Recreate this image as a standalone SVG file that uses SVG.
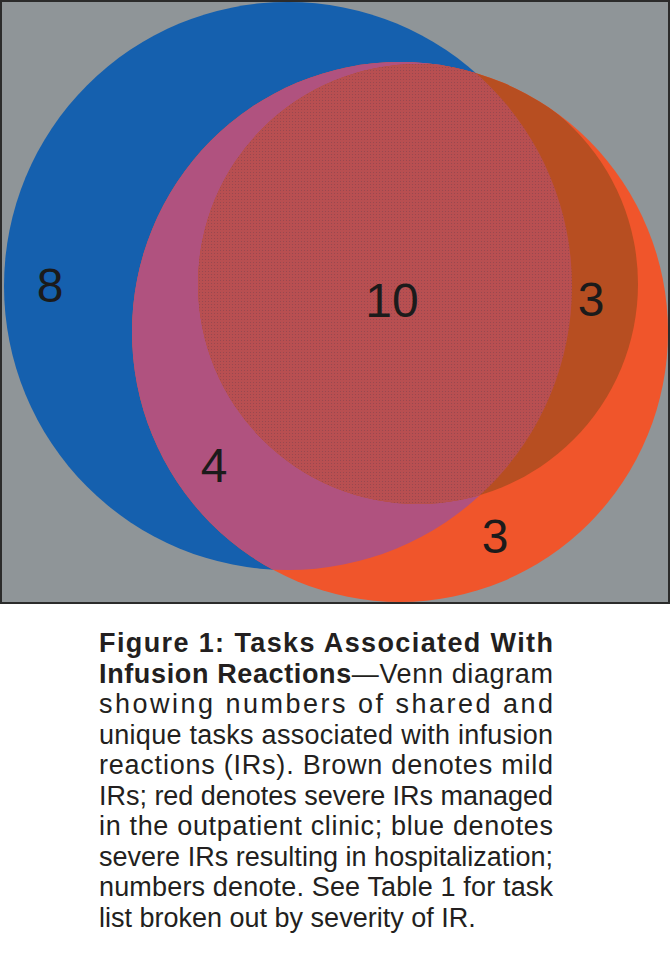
<svg xmlns="http://www.w3.org/2000/svg" width="670" height="958" viewBox="0 0 670 958">
<style>
.num{font-family:"Liberation Sans",Arial,Helvetica,sans-serif;font-size:48px;fill:#1b1b1b;text-anchor:middle}
.cap{font-family:"Liberation Sans",Arial,Helvetica,sans-serif;font-size:27px;fill:#231f20}
.b{font-weight:bold}
</style>
<defs>
<clipPath id="panel"><rect x="2" y="2" width="666" height="600"/></clipPath>
<clipPath id="cBlue"><circle cx="288" cy="286" r="284"/></clipPath>
<clipPath id="cRed"><ellipse cx="400" cy="332" rx="268" ry="270"/></clipPath>
<pattern id="dots" width="3" height="3" patternUnits="userSpaceOnUse">
  <rect width="3" height="3" fill="#b84f51"/>
  <rect x="1" y="1" width="1" height="1" fill="#99484f"/>
</pattern>
</defs>
<rect width="670" height="958" fill="#ffffff"/>
<rect x="1" y="1" width="668" height="602" fill="#8f9598" stroke="#2b2b2b" stroke-width="2"/>
<g clip-path="url(#panel)">
  <g id="blue-set"><circle cx="288" cy="286" r="284" fill="#1560ae"/></g>
  <g id="red-set"><ellipse cx="400" cy="332" rx="268" ry="270" fill="#f0552b"/></g>
  <g id="blue-red-overlap" clip-path="url(#cBlue)"><ellipse cx="400" cy="332" rx="268" ry="270" fill="#b0527f"/></g>
  <g id="brown-set" clip-path="url(#cRed)"><circle cx="418" cy="284" r="220" fill="#b74e21"/></g>
  <g id="all-overlap" clip-path="url(#cBlue)"><circle cx="418" cy="284" r="220" fill="url(#dots)" clip-path="url(#cRed)"/></g>
</g>
<g id="labels">
  <text class="num" x="50" y="302">8</text>
  <text class="num" x="392" y="317">10</text>
  <text class="num" x="591" y="316">3</text>
  <text class="num" x="214" y="482">4</text>
  <text class="num" x="495" y="553">3</text>
</g>
<g id="caption">
  <text class="cap b" x="99" y="652" textLength="454" lengthAdjust="spacing">Figure 1: Tasks Associated With</text>
  <text class="cap" x="99" y="682.5" textLength="454" lengthAdjust="spacing"><tspan class="b">Infusion Reactions</tspan>—Venn diagram</text>
  <text class="cap" x="99" y="713" textLength="454" lengthAdjust="spacing">showing numbers of shared and</text>
  <text class="cap" x="99" y="743.5" textLength="454" lengthAdjust="spacing">unique tasks associated with infusion</text>
  <text class="cap" x="99" y="774" textLength="454" lengthAdjust="spacing">reactions (IRs). Brown denotes mild</text>
  <text class="cap" x="99" y="804.5" textLength="454" lengthAdjust="spacing">IRs; red denotes severe IRs managed</text>
  <text class="cap" x="99" y="835" textLength="454" lengthAdjust="spacing">in the outpatient clinic; blue denotes</text>
  <text class="cap" x="99" y="865.5" textLength="454" lengthAdjust="spacing">severe IRs resulting in hospitalization;</text>
  <text class="cap" x="99" y="896" textLength="454" lengthAdjust="spacing">numbers denote. See Table 1 for task</text>
  <text class="cap" x="99" y="926.5">list broken out by severity of IR.</text>
</g>
</svg>
